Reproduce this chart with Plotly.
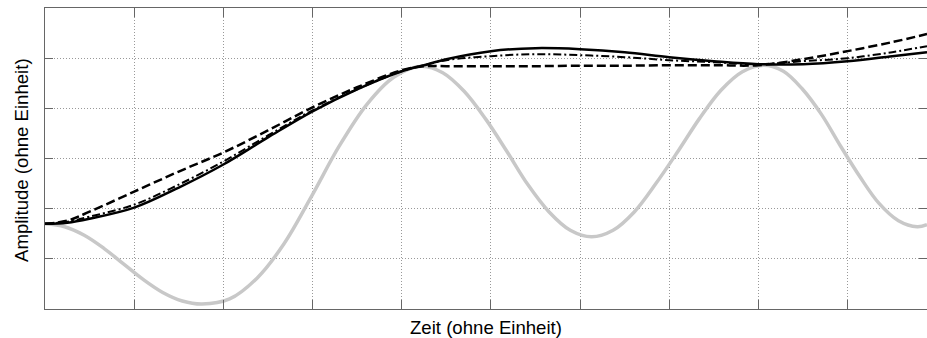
import plotly.graph_objects as go

# Reference signal (gray)
ref_x = [0, 0.22, 0.44, 0.66, 0.88, 1.10, 1.32, 1.54, 1.76,
         2.07, 2.38, 2.68, 2.99, 3.30, 3.61, 3.91, 4.22,
         4.46, 4.70, 4.94, 5.18, 5.41, 5.65, 5.89, 6.13,
         6.37, 6.61, 6.85, 7.10, 7.34, 7.58, 7.82, 8.06,
         8.28, 8.49, 8.71, 8.92, 9.14, 9.35, 9.57, 9.78, 9.89]
ref_y = [-1.30, -1.36, -1.53, -1.79, -2.10, -2.41, -2.67, -2.84, -2.90,
         -2.80, -2.38, -1.70, -0.75, 0.25, 1.08, 1.62, 1.84,
         1.71, 1.34, 0.79, 0.14, -0.51, -1.06, -1.43, -1.56,
         -1.43, -1.06, -0.50, 0.15, 0.80, 1.36, 1.73, 1.86,
         1.74, 1.39, 0.87, 0.25, -0.37, -0.89, -1.24, -1.36, -1.32]

# Approximations (black)
approx_x = [0, 0.25, 0.5, 1, 1.5, 2, 2.5, 3, 3.5, 4, 4.25, 4.5, 5, 5.5, 6, 6.5, 7, 7.5, 8,
            8.5, 9, 9.5, 9.89]
solid_y = [-1.30, -1.28, -1.20, -0.98, -0.58, -0.12, 0.42, 0.94, 1.38, 1.74, 1.86, 1.98, 2.14,
           2.20, 2.18, 2.12, 2.02, 1.94, 1.88, 1.88, 1.94, 2.04, 2.12]
dashdot_y = [-1.30, -1.26, -1.16, -0.92, -0.52, -0.06, 0.46, 0.96, 1.38, 1.74, 1.86, 1.96, 2.04,
             2.08, 2.06, 2.02, 1.96, 1.92, 1.88, 1.94, 2.00, 2.12, 2.24]
dashed_y = [-1.30, -1.24, -1.06, -0.66, -0.26, 0.12, 0.56, 1.02, 1.42, 1.76, 1.84, 1.84, 1.84,
            1.84, 1.85, 1.85, 1.86, 1.86, 1.86, 1.98, 2.14, 2.32, 2.48]

x_title = "Zeit (ohne Einheit)"
y_title = "Amplitude (ohne Einheit)"

fig = go.Figure()
fig.add_trace(go.Scatter(x=ref_x, y=ref_y, mode="lines",
                         line=dict(color="#c8c8c8", width=3.5, shape="spline", smoothing=1)))
fig.add_trace(go.Scatter(x=approx_x, y=dashed_y, mode="lines",
                         line=dict(color="black", width=2.5, dash="9px,4px", shape="spline")))
fig.add_trace(go.Scatter(x=approx_x, y=dashdot_y, mode="lines",
                         line=dict(color="black", width=2, dash="8px,3px,2px,3px", shape="spline")))
fig.add_trace(go.Scatter(x=approx_x, y=solid_y, mode="lines",
                         line=dict(color="black", width=2.5, shape="spline")))

axis_common = dict(
    showgrid=True, gridcolor="#999999", griddash="1px,2px", gridwidth=1,
    showline=True, linecolor="#666666", linewidth=1, mirror="ticks",
    ticks="inside", tickcolor="#666666", showticklabels=False,
    zeroline=False, dtick=1, tick0=0, automargin=False,
)

fig.update_layout(
    width=927, height=338,
    margin=dict(l=45, r=0, t=8, b=29, autoexpand=False),
    paper_bgcolor="white", plot_bgcolor="white",
    showlegend=False,
    font=dict(family="Liberation Sans, Arial, sans-serif", size=18.6, color="black"),
    xaxis=dict(range=[0, 9.89], ticklen=9, **axis_common),
    yaxis=dict(range=[-3, 3], ticklen=8, **axis_common),
    annotations=[
        dict(text=x_title, xref="paper", yref="paper", x=0.5, y=-18 / 301,
             xanchor="center", yanchor="middle", showarrow=False),
        dict(text=y_title, xref="paper", yref="paper", x=-24 / 882, y=0.495,
             xanchor="center", yanchor="middle", textangle=-90, showarrow=False),
    ],
)

fig.write_html(
    "out.html",
    config={"displayModeBar": False},
    post_script=(
        "document.documentElement.style.margin='0';"
        "document.documentElement.style.overflow='hidden';"
        "document.body.style.margin='0';"
        "document.body.style.overflow='hidden';"
    ),
)
